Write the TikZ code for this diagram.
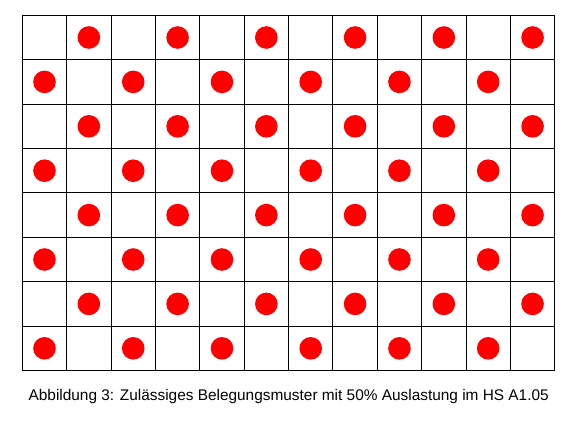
\documentclass[tikz,border=0pt]{standalone}
\usepackage{fontspec}
\setmainfont{Liberation Sans}
\usepackage{tikz}

\begin{document}
\begin{tikzpicture}[
        x=1pt, y=1pt,
        cell/.style={draw, line width=1pt, minimum width=44.37pt, minimum height=44.4pt, inner sep=0pt},
        dot/.style={fill=red},
        caption/.style={font=\fontsize{15.4}{18}\selectfont, inner sep=0pt}
    ]
    \useasboundingbox (0,0) rectangle (583,428);
    % Seating grid, 8 rows x 12 columns
    \foreach \r in {1,...,8} {
        \foreach \c in {1,...,12} {
            \node[cell] (c-\r-\c) at ({22.3+44.37*(\c-0.5)}, {428-15.3-44.4*(\r-0.5)}) {};
        }
    }
    
    % Occupied seats
    \foreach \r in {1,...,8} {
        \foreach \c in {1,...,12} {
            \pgfmathtruncatemacro{\odd}{mod(\r+\c,2)}
            \ifnum\odd=1
                \fill[dot] (c-\r-\c) circle (11.3pt);
            \fi
        }
    }
    
    % Caption
    \node[caption] (cap) at (288.7, 31.5) {Abbildung 3: Zulässiges Belegungsmuster mit 50\% Auslastung im HS A1.05};
    
\end{tikzpicture}
\end{document}
